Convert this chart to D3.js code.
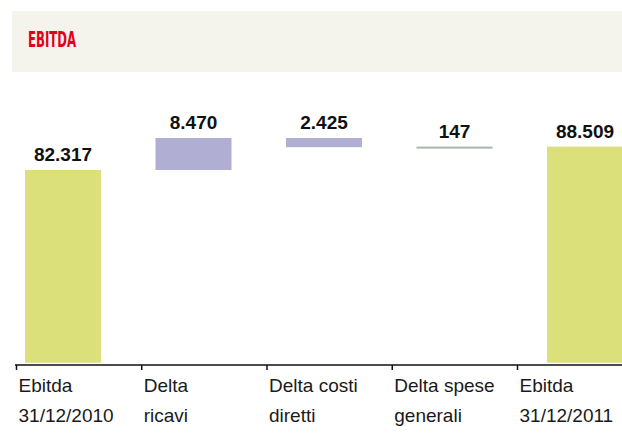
<!DOCTYPE html>
<html>
<head>
<meta charset="utf-8">
<script src="https://cdn.jsdelivr.net/npm/d3@7"></script>
<style>
  body { margin: 0; background: #fff; }
  svg { display: block; }
</style>
</head>
<body>
<svg id="chart" width="622" height="441"></svg>
<script>
// data
const categories = ['e2010', 'ricavi', 'costi', 'spese', 'e2011'];
const labelTop = ['Ebitda', 'Delta', 'Delta costi', 'Delta spese', 'Ebitda'];
const labelBottom = ['31/12/2010', 'ricavi', 'diretti', 'generali', '31/12/2011'];
const values = [82317, 8470, -2425, 147, 88509];
const isTotal = [true, false, false, false, true];

const svg = d3.select('#chart');

// header band
svg.append('rect')
  .attr('x', 12).attr('y', 11)
  .attr('width', 610).attr('height', 61)
  .attr('fill', '#f4f3ec');

svg.append('text')
  .attr('x', 28).attr('y', 47)
  .attr('fill', '#e2001a')
  .attr('font-family', '"Liberation Sans Narrow", "DejaVu Sans Condensed", sans-serif')
  .attr('font-weight', 'bold')
  .attr('font-size', 21)
  .attr('textLength', 48)
  .attr('lengthAdjust', 'spacingAndGlyphs')
  .text('EBITDA');

// waterfall layout
let running = 0;
const bars = categories.map((c, i) => {
  let lo, hi;
  if (isTotal[i]) {
    lo = null; hi = values[i]; running = values[i];
  } else {
    const next = running + values[i];
    lo = Math.min(running, next); hi = Math.max(running, next);
    running = next;
  }
  return {key: c, i, lo, hi, value: values[i]};
});

const x = d3.scaleBand()
  .domain(categories)
  .range([25, 623])
  .paddingInner(0.4176)
  .paddingOuter(0);

const y = d3.scaleLinear()
  .domain([31300, 90787])
  .range([362.7, 138]);

const color = d3.scaleOrdinal()
  .domain(categories)
  .range(['#dce07a', '#b0afd3', '#b0afd3', '#a7b9ae', '#dce07a']);

const it = d3.formatLocale({decimal: ',', thousands: '.', grouping: [3], currency: ['€', '']});
const fmt = it.format(',d');

svg.append('g')
  .selectAll('rect')
  .data(bars)
  .join('rect')
  .attr('x', d => x(d.key))
  .attr('width', x.bandwidth())
  .attr('y', d => y(d.hi))
  .attr('height', d => {
    const bottom = d.lo === null ? y.range()[0] : y(d.lo);
    return Math.max(2, bottom - y(d.hi));
  })
  .attr('fill', d => color(d.key));

svg.append('g')
  .selectAll('text')
  .data(bars)
  .join('text')
  .attr('x', d => x(d.key) + x.bandwidth() / 2)
  .attr('y', d => y(d.hi) - 9)
  .attr('text-anchor', 'middle')
  .attr('font-family', '"Liberation Sans", Arial, sans-serif')
  .attr('font-weight', 'bold')
  .attr('font-size', 19)
  .attr('fill', '#111')
  .text(d => fmt(Math.abs(d.value)));

// category axis (ticks sit on a slightly tighter grid than the bars)
const xAxisScale = d3.scalePoint()
  .domain(categories)
  .range([16, 517]);

const axis = svg.append('g')
  .attr('transform', 'translate(0,365)')
  .call(d3.axisBottom(xAxisScale).tickSize(5).tickSizeOuter(0).tickFormat(''));

axis.select('.domain').remove();
axis.selectAll('.tick line').attr('stroke', '#111').attr('stroke-width', 1.5);
axis.append('line')
  .attr('x1', 15).attr('x2', 622)
  .attr('stroke', '#111').attr('stroke-width', 1.5);

axis.selectAll('.tick')
  .append('text')
  .attr('text-anchor', 'start')
  .attr('x', 2)
  .attr('fill', '#1a1a1a')
  .attr('font-family', '"Liberation Sans", Arial, sans-serif')
  .attr('font-size', 19)
  .each(function(d, i) {
    const t = d3.select(this);
    t.append('tspan').attr('x', 2).attr('y', 27).text(labelTop[i]);
    t.append('tspan').attr('x', 2).attr('y', 57).text(labelBottom[i]);
  });
</script>
</body>
</html>
